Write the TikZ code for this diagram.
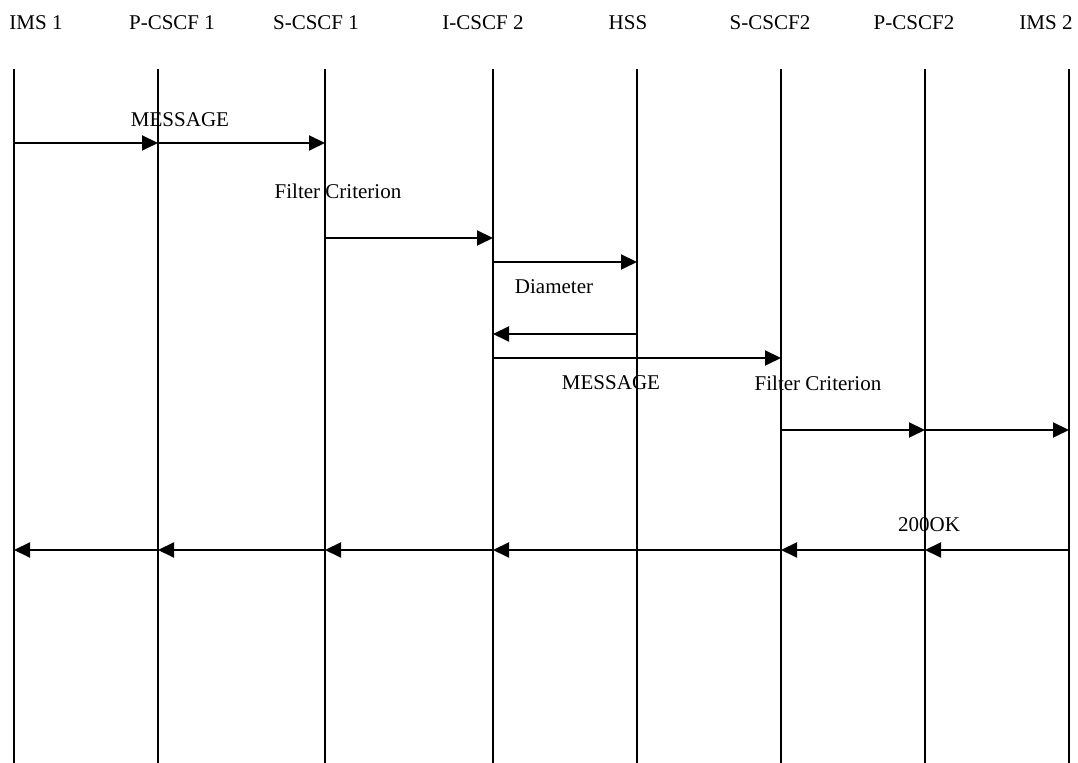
\documentclass[tikz,border=0pt]{standalone}
\usepackage{fontspec}
\setmainfont{Liberation Serif}
\usetikzlibrary{arrows.meta}

\begin{document}
\begin{tikzpicture}[x=0.5pt,y=-0.5pt,font=\fontsize{10.5}{12.6}\selectfont,
  >={Triangle[length=8pt,width=7.5pt]},line width=1pt]
\useasboundingbox (0,0) rectangle (1078,763);
% lifelines
\foreach \n/\x in {ims1/14,pcscf1/158,scscf1/325,icscf2/493,hss/637,scscf2/781,pcscf2/925,ims2/1069} {
  \coordinate (\n) at (\x,69);
  \coordinate (\n-end) at (\x,763);
  \draw (\n) -- (\n-end);
}
% headers
\node (t-ims1) at (36,23) {IMS 1};
\node (t-pcscf1) at (172,23) {P-CSCF 1};
\node (t-scscf1) at (316,23) {S-CSCF 1};
\node (t-icscf2) at (483,23) {I-CSCF 2};
\node (t-hss) at (628,23) {HSS};
\node (t-scscf2) at (770,23) {S-CSCF2};
\node (t-pcscf2) at (914,23) {P-CSCF2};
\node (t-ims2) at (1046,23) {IMS 2};
% message rows
\coordinate (r1) at (0,143);
\coordinate (r2) at (0,238);
\coordinate (r3) at (0,262);
\coordinate (r4) at (0,334);
\coordinate (r5) at (0,358);
\coordinate (r6) at (0,430);
\coordinate (r7) at (0,550);
\draw[->] (ims1|-r1) -- (pcscf1|-r1);
\draw[->] (pcscf1|-r1) -- (scscf1|-r1);
\draw[->] (scscf1|-r2) -- (icscf2|-r2);
\draw[->] (icscf2|-r3) -- (hss|-r3);
\draw[->] (hss|-r4) -- (icscf2|-r4);
\draw[->] (icscf2|-r5) -- (scscf2|-r5);
\draw[->] (scscf2|-r6) -- (pcscf2|-r6);
\draw[->] (pcscf2|-r6) -- (ims2|-r6);
\foreach \a/\b in {ims2/pcscf2,pcscf2/scscf2,scscf2/icscf2,icscf2/scscf1,scscf1/pcscf1,pcscf1/ims1} {
  \draw[->] (\a|-r7) -- (\b|-r7);
}
% labels
\node (l-msg1) at (180,120) {MESSAGE};
\node (l-filter1) at (338,191) {Filter Criterion};
\node (l-diam) at (554,287) {Diameter};
\node (l-msg2) at (611,383) {MESSAGE};
\node (l-filter2) at (818,383) {Filter Criterion};
\node (l-ok) at (929,525) {200OK};
\end{tikzpicture}
\end{document}
